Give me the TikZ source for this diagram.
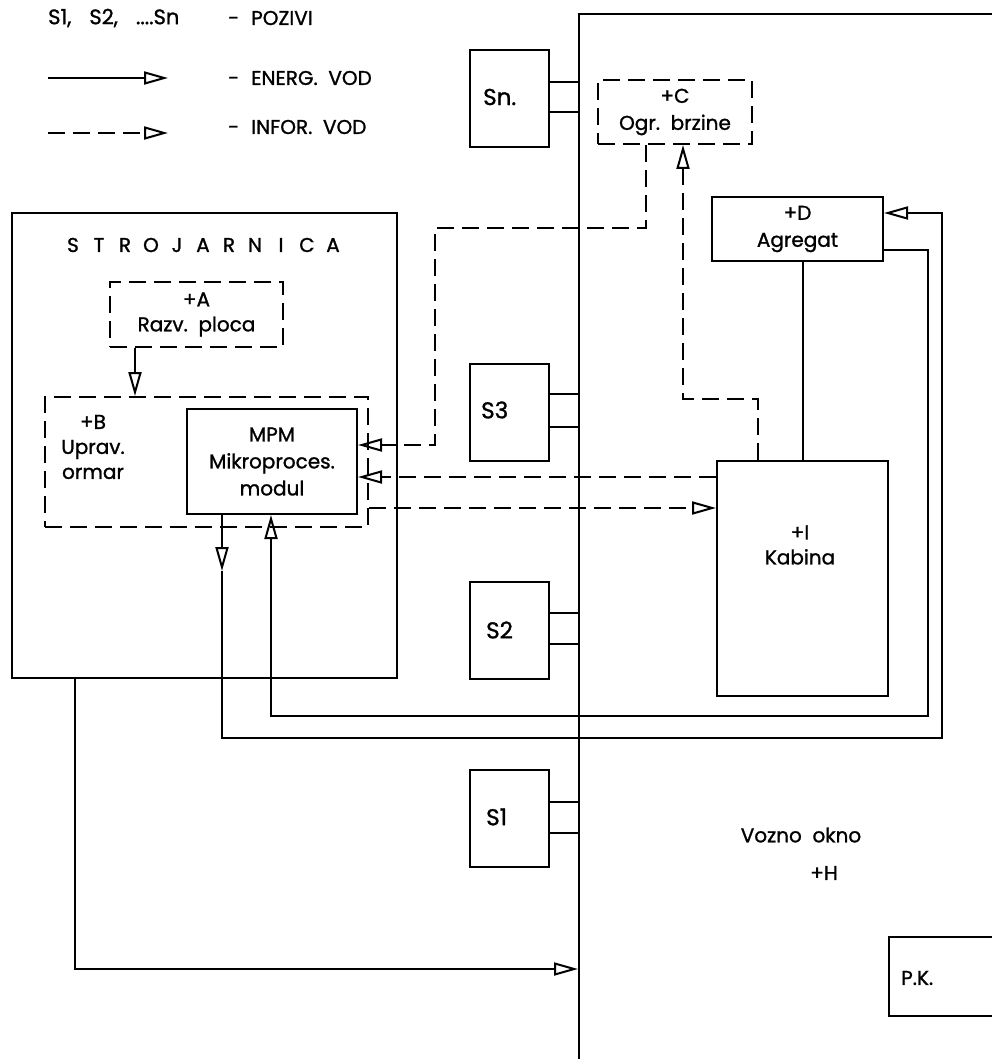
\documentclass[tikz,border=0pt]{standalone}
\usepackage{fontspec}
\setmainfont{Poppins}[FakeBold=1.2]
\usetikzlibrary{arrows.meta}
\begin{document}
\begin{tikzpicture}[x=1pt,y=-1pt,
  every node/.style={inner sep=0pt, font=\fontsize{20}{25}\selectfont},
  ln/.style={line width=2pt},
  blk/.style={draw, line width=2pt, rectangle},
  dblk/.style={draw, line width=2pt, dash pattern=on 17pt off 8pt},
  tip/.tip={Triangle[open,length=24pt,width=13pt]},
  energy/.style={line width=2pt, -tip},
  info/.style={line width=2pt, dash pattern=on 17pt off 8pt, -tip},
  slab/.style={font=\fontsize{23}{28}\selectfont, anchor=west},
  sbox/.style={blk, minimum width=79pt, minimum height=97pt},
]
\useasboundingbox (0,0) rectangle (992,1059);

% legend
\node[anchor=west, font=\fontsize{21}{25}\selectfont] (L1) at (48,18) {S1,\hspace{18pt}S2,\hspace{18pt}....Sn};
\node[anchor=west] (L1b) at (228,18) {-\hspace{12pt}POZIVI};
\coordinate (e1) at (48,78); \coordinate (e2) at (168,78);
\draw[energy] (e1) -- (e2);
\node[anchor=west] (L2) at (228,78) {-\hspace{12pt}ENERG.\ \ VOD};
\coordinate (f1) at (48,133); \coordinate (f2) at (168,133);
\draw[info] (f1) -- (f2);
\node[anchor=west] (L3) at (228,127) {-\hspace{12pt}INFOR.\ \ VOD};

% big shaft box
\node[blk, minimum width=621pt, minimum height=1286pt] (H) at (889.5,657) {};
\node (Ht1) at (801,835) {Vozno\ \ okno};
\node (Ht2) at (824,873) {+H};
\node[blk, minimum width=211pt, minimum height=79pt] (PK) at (994.5,976.5) {};
\node[anchor=west] (PKt) at (901,978) {P.K.};

% machine room
\node[blk, minimum width=385pt, minimum height=465pt] (Str) at (204.5,445.5) {};
\node (Strt) at (203,245) {\makebox[26pt]{S}\makebox[26pt]{T}\makebox[26pt]{R}\makebox[26pt]{O}\makebox[26pt]{J}\makebox[26pt]{A}\makebox[26pt]{R}\makebox[26pt]{N}\makebox[26pt]{I}\makebox[26pt]{C}\makebox[26pt]{A}};
\node[dblk, minimum width=173pt, minimum height=65pt, align=center] (A) at (196.5,314.5) {+A\\Razv.\ \ ploca};
\node[dblk, minimum width=323pt, minimum height=130pt] (B) at (206.5,462) {};
\node[align=center] (Bt) at (93,447) {+B\\Uprav.\\ormar};
\node[blk, minimum width=170pt, minimum height=105pt, align=center, font=\fontsize{20}{27}\selectfont] (MPM) at (272,461.5) {MPM\\Mikroproces.\\modul};

% shaft equipment
\node[dblk, minimum width=154pt, minimum height=64pt, align=center, font=\fontsize{20}{27}\selectfont] (C) at (675,112) {+C\\Ogr.\ \ brzine};
\node[blk, minimum width=171pt, minimum height=64pt, align=center, font=\fontsize{20}{27}\selectfont] (D) at (797.5,229) {+D\\Agregat};
\node[blk, minimum width=171pt, minimum height=235pt] (I) at (802.5,578.5) {};
\node[align=center] (It) at (800,545) {+I\\Kabina};

% calls
\node[sbox] (Sn) at (509,98.5) {};
\node[slab] (Snt) at (483,97) {Sn.};
\node[sbox] (S3) at (509,412) {};
\node[slab] (S3t) at (481,410) {S3};
\node[sbox] (S2) at (509,630) {};
\node[slab] (S2t) at (486,630) {S2};
\node[sbox] (S1) at (509,818.5) {};
\node[slab] (S1t) at (486,817) {S1};

\foreach \s/\a/\b in {Sn/16.5/-13.5, S3/18/-15, S2/17/-14, S1/16.5/-14.5}{
  \draw[ln] ([yshift=\a pt]\s.east) -- ([yshift=\a pt]\s.east -| H.west);
  \draw[ln] ([yshift=\b pt]\s.east) -- ([yshift=\b pt]\s.east -| H.west);
}

% energy lines
\draw[energy] ([xshift=-61.5pt]A.south) -- ([xshift=-61.5pt]A.south |- B.north);
\coordinate (mdn) at ([xshift=-50pt,yshift=-56pt]MPM.south);
\draw[energy] ([xshift=-50pt]MPM.south) -- (mdn);
\draw[energy] (mdn) |- (942,738) |- ([yshift=16pt]D.east);
\draw[energy] ([yshift=-21pt]D.east) -| (928,716) -| ([xshift=-1pt]MPM.south);
\draw[ln] (I.north |- D.south) -- (I.north);
\coordinate (s75) at ([xshift=-129.5pt]Str.south);
\draw[energy] (s75) |- ([yshift=-956pt]H.north west);

% information lines
\draw[info] ([xshift=-29pt]C.south) |- (435,228) |- ([yshift=16.5pt]MPM.east);
\coordinate (i477) at ([yshift=101.5pt]I.west);
\draw[info] (i477) -- (i477 -| MPM.east);
\coordinate (b508) at ([yshift=-46pt]B.east);
\draw[info] (b508) -- (b508 -| I.west);
\draw[info] ([xshift=-44.5pt]I.north) |- (683,399) -- ([xshift=8pt]C.south);
\end{tikzpicture}
\end{document}
